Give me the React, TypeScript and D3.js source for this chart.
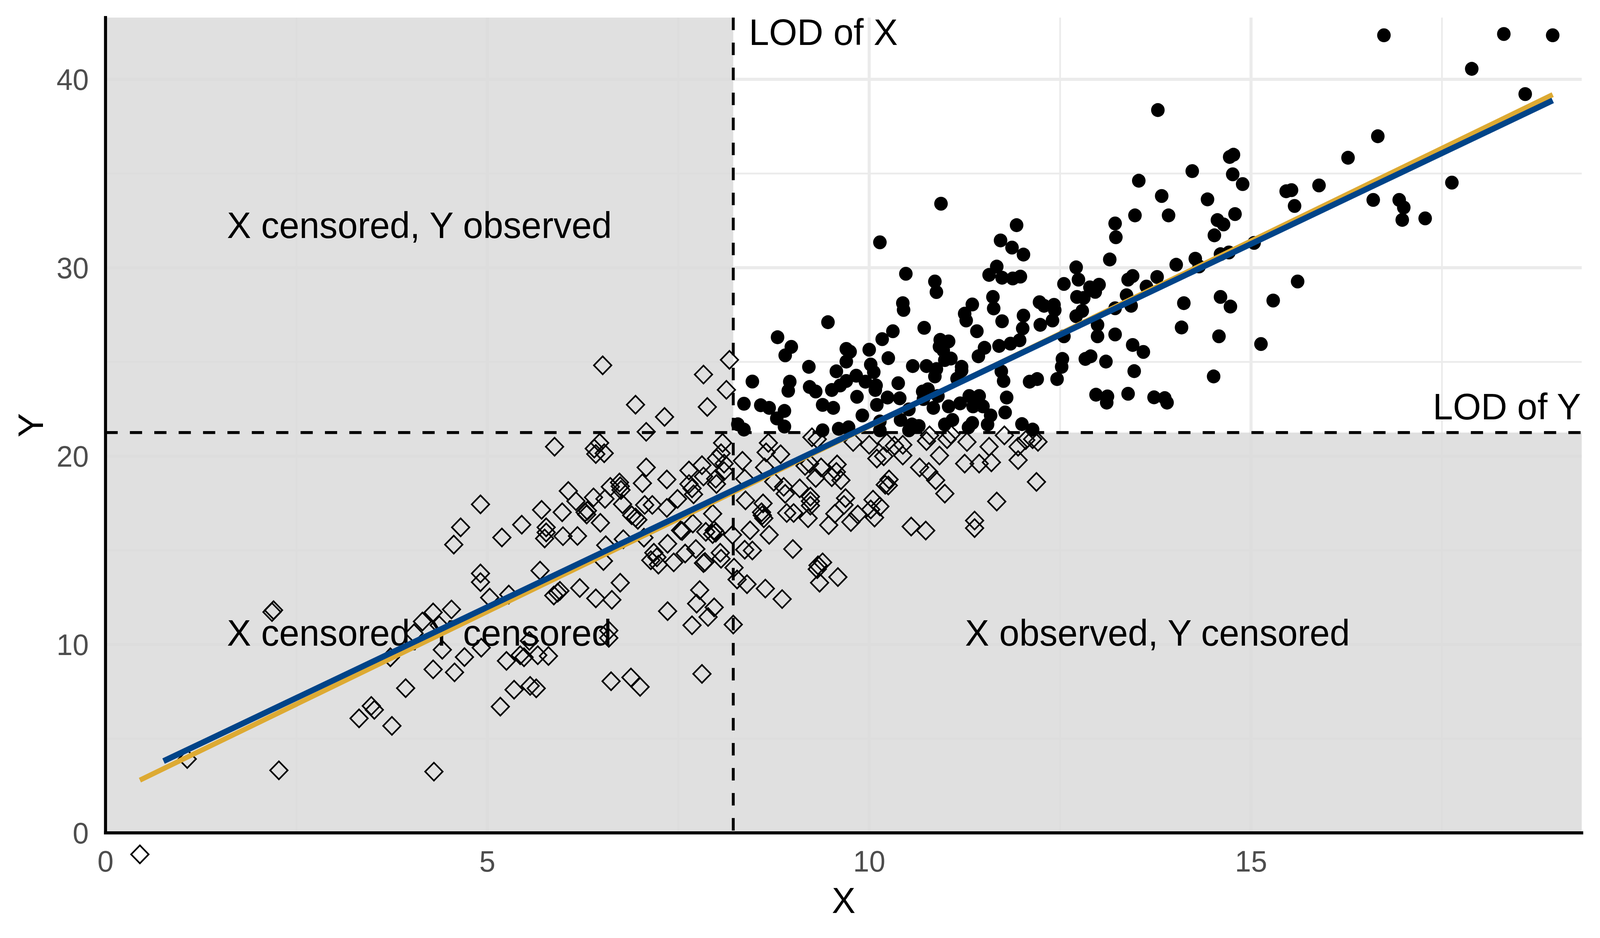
import React from "react";
import * as d3 from "d3";

// ---------- data ----------
const LOD_X = 8.22;
const LOD_Y = 21.25;
const X_DOMAIN = [0, 19.33];
const Y_DOMAIN = [0, 43.28];

const xMajorTicks = [0, 5, 10, 15];
const xMinorTicks = [2.5, 7.5, 12.5, 17.5];
const yMajorTicks = [0, 10, 20, 30, 40];
const yMinorTicks = [5, 15, 25, 35];

// [intercept, slope, xFrom, xTo]
const goldFit = [1.915, 1.967, 0.45, 18.95];
const blueFit = [2.345, 1.928, 0.76, 18.95];

const quadrantLabels = [
  "X censored, Y observed",
  "X censored, Y censored",
  "X observed, Y censored",
];

// observed in both X and Y (filled circles)
const observedPoints: [number, number][] = [
  [8.80, 26.31], [8.98, 25.8], [8.90, 25.35], [8.47, 23.96], [8.96, 23.95], [8.94, 23.47], [8.36, 22.78],
  [8.58, 22.70], [8.69, 22.56], [8.89, 22.40], [8.79, 22.0], [8.89, 21.57], [8.28, 21.69], [8.36, 21.41],
  [10.14, 31.35], [10.48, 29.68], [10.86, 29.27], [10.88, 28.71], [10.44, 28.12], [10.45, 27.76], [9.46, 27.11],
  [10.72, 26.81], [10.31, 26.63], [10.17, 26.21],
  [11.93, 32.26], [11.72, 31.45], [11.87, 31.07], [12.02, 30.7], [11.67, 30.06], [11.57, 29.62], [11.74, 29.47],
  [11.88, 29.43], [11.98, 29.53],
  [11.62, 28.45], [11.63, 27.84], [11.35, 28.05], [11.25, 27.56], [11.27, 27.2], [11.74, 27.16], [11.41, 26.63],
  [12.02, 27.46], [12.01, 26.78],
  [9.21, 24.74], [9.70, 25.69], [9.75, 25.54], [9.70, 25.02], [10.0, 25.65], [10.25, 25.2], [10.93, 26.17],
  [11.04, 26.09], [10.92, 25.81], [10.97, 25.61], [11.07, 25.18], [11.21, 24.74], [11.51, 25.75], [11.43, 25.3],
  [11.70, 25.85], [11.85, 25.97], [11.97, 26.15],
  [10.57, 24.78], [10.75, 24.78], [10.88, 24.62], [10.86, 24.23], [11.15, 24.11], [11.21, 24.54], [10.99, 25.1],
  [11.73, 24.5], [11.76, 23.99], [11.80, 23.11], [11.78, 22.32], [12.0, 21.7],
  [10.02, 24.86], [10.06, 24.46], [9.57, 24.5], [9.22, 23.67], [9.30, 23.43], [9.70, 23.99], [9.83, 24.27],
  [9.95, 23.95], [10.09, 23.75], [9.51, 23.51], [9.62, 23.75], [9.84, 23.15], [10.08, 23.51], [10.10, 22.72],
  [10.24, 23.11], [10.38, 23.87], [10.40, 23.07], [10.70, 23.43], [10.77, 23.55], [10.71, 23.03], [10.90, 23.19],
  [10.84, 22.56], [11.04, 22.64], [11.19, 22.8], [11.31, 23.19], [11.44, 23.19], [11.36, 22.64], [11.49, 22.64],
  [11.59, 22.16], [11.55, 21.68], [11.09, 21.92], [10.99, 21.68], [11.35, 21.76], [11.30, 21.53], [10.52, 22.48],
  [10.41, 21.92], [10.56, 21.68], [10.65, 21.6], [10.52, 21.37], [9.91, 22.16], [10.14, 21.84], [10.14, 21.37],
  [9.39, 22.72], [9.53, 22.56], [9.39, 21.37], [9.60, 21.45], [9.73, 21.53],
  [13.22, 32.35], [13.48, 32.78], [13.92, 32.78], [14.56, 32.53], [14.64, 32.3], [14.79, 32.85], [14.52, 31.72],
  [13.23, 31.62],
  [13.15, 30.44], [12.71, 30.02], [12.74, 29.37], [12.55, 29.14], [12.89, 28.96], [13.01, 29.1], [12.96, 28.72],
  [12.72, 28.45], [12.81, 28.4], [12.23, 28.17], [12.29, 27.98], [12.42, 28.03], [12.43, 27.75], [12.40, 27.2],
  [12.24, 26.97], [12.79, 27.71], [12.71, 27.43], [12.99, 26.97], [12.99, 26.36], [12.55, 26.36], [13.22, 27.85],
  [13.37, 28.54], [13.39, 29.37], [13.45, 29.56], [13.43, 27.98], [13.63, 29.0], [13.77, 29.51], [13.22, 26.46],
  [13.45, 25.9], [13.59, 25.53], [13.10, 25.02], [12.83, 25.16], [12.90, 25.3], [12.53, 25.16], [12.52, 24.74],
  [12.46, 24.09], [12.10, 23.95], [12.20, 24.09], [13.47, 24.51], [12.97, 23.26], [13.12, 23.17], [13.11, 22.84],
  [13.39, 23.31], [13.73, 23.12], [13.87, 23.08], [13.90, 22.84], [14.02, 30.16], [14.27, 30.48], [14.32, 30.07],
  [14.60, 30.72], [14.71, 30.81], [15.04, 31.32], [14.12, 28.12], [14.09, 26.83], [14.60, 28.45], [14.73, 27.94],
  [14.58, 26.36], [15.29, 28.26], [15.13, 25.95], [14.51, 24.23], [12.14, 21.41],
  [13.78, 38.37], [14.77, 36.0], [14.72, 35.88], [14.23, 35.13], [14.76, 34.96], [14.89, 34.44], [13.53, 34.62],
  [13.83, 33.81], [14.43, 33.63], [10.94, 33.4],
  [16.74, 42.34], [18.31, 42.41], [18.95, 42.34], [17.89, 40.56], [18.59, 39.22], [16.66, 36.98], [16.27, 35.84],
  [17.63, 34.52], [16.60, 33.6], [16.94, 33.6], [17.0, 33.2], [16.98, 32.54], [17.28, 32.62], [15.89, 34.37],
  [15.53, 34.12], [15.46, 34.06], [15.57, 33.28], [15.61, 29.27],
];

// censored in X and/or Y (open diamonds)
const censoredPoints: [number, number][] = [
  [2.18, 11.72], [2.2, 11.82], [1.07, 3.92], [2.27, 3.32], [0.45, -1.14], [3.73, 9.32], [3.93, 7.68],
  [3.48, 6.74], [3.52, 6.53], [3.32, 6.08], [3.75, 5.68],
  [5.88, 20.5], [4.91, 17.44], [4.65, 16.22], [4.56, 15.30], [5.19, 15.68], [5.45, 16.36], [5.71, 17.15],
  [5.77, 16.22], [5.77, 15.95], [5.75, 15.63], [5.98, 17.02], [5.99, 15.75], [6.06, 18.15], [4.91, 13.77],
  [4.91, 13.31], [5.69, 13.92], [5.03, 12.49], [5.28, 12.65], [5.87, 12.6], [5.92, 12.75], [5.95, 12.85],
  [4.29, 11.70], [4.53, 11.86], [4.15, 11.22], [4.37, 11.02], [4.04, 10.59], [4.41, 9.72], [4.92, 9.83],
  [4.70, 9.33], [4.29, 8.68], [4.57, 8.52], [5.25, 9.13], [5.43, 9.43], [5.48, 9.32], [5.55, 10.19],
  [5.66, 9.43], [5.80, 9.39], [5.35, 7.6], [5.56, 7.8], [5.64, 7.67], [4.30, 3.25], [5.17, 6.7],
  [6.42, 20.11], [6.53, 20.15], [6.47, 20.7], [7.08, 19.40], [7.35, 18.76], [7.64, 19.24], [7.81, 19.52],
  [8.0, 19.87], [8.06, 20.15], [8.34, 19.75], [8.65, 20.2], [8.84, 20.1], [8.63, 19.40], [8.37, 18.80],
  [8.10, 19.6], [8.10, 19.2], [7.99, 18.8], [7.83, 18.92], [8.0, 18.52],
  [6.16, 17.61], [6.28, 17.02], [6.31, 17.1], [6.30, 16.9], [6.39, 17.81], [6.48, 16.46], [6.18, 15.76],
  [6.54, 17.73], [6.61, 18.37], [6.73, 18.6], [6.74, 18.4], [6.75, 18.2], [6.77, 17.45], [6.89, 16.86],
  [6.94, 16.74], [6.97, 16.62], [7.03, 18.56], [7.06, 17.41], [7.16, 17.41], [7.05, 15.67], [7.35, 17.25],
  [7.36, 15.35], [6.78, 15.59], [6.55, 15.27], [6.52, 14.43], [6.21, 13.0], [6.74, 13.28], [6.42, 12.45],
  [6.63, 12.37], [6.59, 10.74], [6.59, 10.35], [7.36, 11.77], [7.14, 14.47], [7.22, 14.63], [7.24, 14.24],
  [7.18, 14.87], [7.44, 14.36], [7.59, 14.83], [7.73, 15.07], [7.83, 14.32], [7.85, 14.38], [7.69, 16.42],
  [7.53, 16.06], [7.55, 16.02], [7.49, 17.73], [7.64, 18.52], [7.68, 18.29], [7.70, 17.97], [7.86, 15.98],
  [7.95, 16.94], [7.97, 16.06], [7.99, 15.94], [7.95, 15.86], [8.05, 14.87], [8.06, 14.55], [8.21, 15.82],
  [8.23, 14.08], [8.38, 17.65], [8.44, 16.06], [8.37, 15.03], [8.47, 14.99], [8.61, 17.49], [8.59, 17.02],
  [8.60, 16.86], [8.62, 16.7], [8.69, 15.82], [8.92, 16.98], [8.90, 18.0], [8.88, 18.37], [8.75, 18.64],
  [8.40, 13.2], [8.27, 13.45], [8.64, 12.97], [8.86, 12.41], [7.78, 12.89], [7.74, 12.17], [7.97, 11.97],
  [7.89, 11.46], [7.68, 11.02], [8.22, 11.06], [7.81, 8.44], [6.62, 8.05], [6.88, 8.25], [7.0, 7.75],
  [6.51, 24.82], [8.17, 25.11], [7.83, 24.33], [8.13, 23.52], [7.88, 22.61], [6.94, 22.73], [7.32, 22.08],
  [7.08, 21.29], [8.08, 20.7], [8.68, 20.7], [6.40, 20.4],
  [9.25, 21.0], [9.32, 20.9], [9.79, 20.75], [10.0, 20.6], [10.23, 20.7], [10.33, 20.55], [10.44, 20.6],
  [10.79, 21.1], [10.75, 20.8], [11.02, 20.9], [11.07, 21.15], [11.28, 20.75], [11.57, 20.5], [11.77, 21.1],
  [11.95, 20.5],
  [9.16, 19.48], [9.22, 19.6], [9.30, 18.84], [9.37, 19.4], [9.58, 19.56], [9.51, 18.88], [9.63, 18.72],
  [9.57, 19.16], [9.09, 18.29], [9.23, 17.85], [9.23, 17.61], [9.23, 17.37], [9.20, 16.7], [9.01, 16.98],
  [9.69, 17.77], [9.67, 17.41], [9.55, 16.94], [9.47, 16.34], [9.76, 16.5], [9.85, 16.9], [10.05, 17.69],
  [10.14, 17.33], [10.07, 16.74], [10.02, 17.17], [10.10, 19.87], [10.19, 19.99], [10.26, 18.76],
  [10.21, 18.48], [10.25, 18.44], [10.44, 20.03], [10.92, 20.03], [10.66, 19.4], [10.78, 19.16],
  [10.87, 18.72], [10.99, 18.01], [11.25, 19.6], [11.44, 19.6], [11.6, 19.67], [11.95, 19.79], [11.67, 17.59],
  [11.38, 16.58], [11.38, 16.18], [10.55, 16.26], [10.74, 16.05], [9.0, 15.07], [9.39, 14.36], [9.32, 14.0],
  [9.35, 13.28], [9.59, 13.58], [9.33, 14.2],
  [12.05, 20.85], [12.14, 20.9], [12.21, 20.76], [12.19, 18.63],
];

// ---------- layout ----------
const W = 4200;
const H = 2400;
const PANEL = { left: 277, right: 4152, top: 45, bottom: 2131 };
const FONT = "'Liberation Sans', Arial, Helvetica, sans-serif";

export default function App() {
  const x = d3.scaleLinear().domain(X_DOMAIN).range([PANEL.left, PANEL.right]);
  const y = d3.scaleLinear().domain(Y_DOMAIN).range([PANEL.bottom, PANEL.top]);

  const fitPath = (fit: number[]) => {
    const [a, b, x0, x1] = fit;
    const line = d3
      .line<number>()
      .x((v) => x(v))
      .y((v) => y(a + b * v));
    return line([x0, x1]) || "";
  };

  const diamond = d3.symbol(d3.symbolSquare, 2 * 23 * 23)();

  const gridColor = "#EBEBEB";

  return (
    <svg
      viewBox={`0 0 ${W} ${H}`}
      preserveAspectRatio="none"
      style={{ position: "fixed", left: 0, top: 0, width: "100vw", height: "100vh", display: "block", background: "#fff" }}
      fontFamily={FONT}
    >
      <rect x={0} y={0} width={W} height={H} fill="#ffffff" />

      {/* grid */}
      <g>
        {yMinorTicks.map((t) => (
          <line key={"ym" + t} x1={PANEL.left} x2={PANEL.right} y1={y(t)} y2={y(t)} stroke={gridColor} strokeWidth={4.5} />
        ))}
        {xMinorTicks.map((t) => (
          <line key={"xm" + t} x1={x(t)} x2={x(t)} y1={PANEL.top} y2={PANEL.bottom} stroke={gridColor} strokeWidth={4.5} />
        ))}
        {yMajorTicks.map((t) => (
          <line key={"yM" + t} x1={PANEL.left} x2={PANEL.right} y1={y(t)} y2={y(t)} stroke={gridColor} strokeWidth={8} />
        ))}
        {xMajorTicks.map((t) => (
          <line key={"xM" + t} x1={x(t)} x2={x(t)} y1={PANEL.top} y2={PANEL.bottom} stroke={gridColor} strokeWidth={8} />
        ))}
      </g>

      {/* censored regions */}
      <g fill="#D9D9D9" fillOpacity={0.82}>
        <rect x={x(0)} y={y(Y_DOMAIN[1])} width={x(LOD_X) - x(0)} height={y(0) - y(Y_DOMAIN[1])} />
        <rect x={x(LOD_X)} y={y(LOD_Y)} width={x(X_DOMAIN[1]) - x(LOD_X)} height={y(0) - y(LOD_Y)} />
      </g>

      {/* quadrant labels */}
      <g fontSize={95} fill="#000" textAnchor="middle" dominantBaseline="central">
        <text x={x(LOD_X / 2)} y={y((LOD_Y + Y_DOMAIN[1]) / 2)}>{quadrantLabels[0]}</text>
        <text x={x(LOD_X / 2)} y={y(LOD_Y / 2)}>{quadrantLabels[1]}</text>
        <text x={x((LOD_X + X_DOMAIN[1]) / 2)} y={y(LOD_Y / 2)}>{quadrantLabels[2]}</text>
      </g>

      {/* LOD lines */}
      <g stroke="#000" strokeWidth={7.5} strokeDasharray="32 32">
        <line x1={x(LOD_X)} x2={x(LOD_X)} y1={PANEL.top} y2={PANEL.bottom} />
        <line x1={PANEL.left} x2={PANEL.right} y1={y(LOD_Y)} y2={y(LOD_Y)} />
      </g>
      <text x={x(LOD_X) + 41} y={PANEL.top + 70} fontSize={95} fill="#000">LOD of X</text>
      <text x={PANEL.right - 2} y={y(LOD_Y) - 34} fontSize={95} fill="#000" textAnchor="end">LOD of Y</text>

      {/* points */}
      <g fill="none" stroke="#000" strokeWidth={4.2}>
        {censoredPoints.map((p, i) => (
          <path key={"c" + i} d={diamond} transform={`translate(${x(p[0])},${y(p[1])}) rotate(45)`} />
        ))}
      </g>
      <g fill="#000">
        {observedPoints.map((p, i) => (
          <circle key={"o" + i} cx={x(p[0])} cy={y(p[1])} r={17.8} />
        ))}
      </g>

      {/* fitted lines */}
      <path d={fitPath(goldFit)} stroke="#DDAA33" strokeWidth={13} fill="none" />
      <path d={fitPath(blueFit)} stroke="#004488" strokeWidth={15} fill="none" />

      {/* axes */}
      <line x1={PANEL.left} x2={PANEL.right} y1={PANEL.bottom} y2={PANEL.bottom} stroke="#000" strokeWidth={8} strokeLinecap="square" />
      <line x1={PANEL.left} x2={PANEL.left} y1={PANEL.top} y2={PANEL.bottom} stroke="#000" strokeWidth={8} strokeLinecap="square" />

      <g fontSize={76} fill="#4D4D4D">
        {xMajorTicks.map((t) => (
          <text key={"xl" + t} x={x(t)} y={PANEL.bottom + 99} textAnchor="middle">{t}</text>
        ))}
        {yMajorTicks.map((t) => (
          <text key={"yl" + t} x={233} y={y(t) + 27} textAnchor="end">{t}</text>
        ))}
      </g>

      <text x={(PANEL.left + PANEL.right) / 2} y={2336} fontSize={93} textAnchor="middle" fill="#000">X</text>
      <text
        transform={`translate(113, ${(PANEL.top + PANEL.bottom) / 2}) rotate(-90)`}
        fontSize={93}
        textAnchor="middle"
        fill="#000"
      >
        Y
      </text>
    </svg>
  );
}
